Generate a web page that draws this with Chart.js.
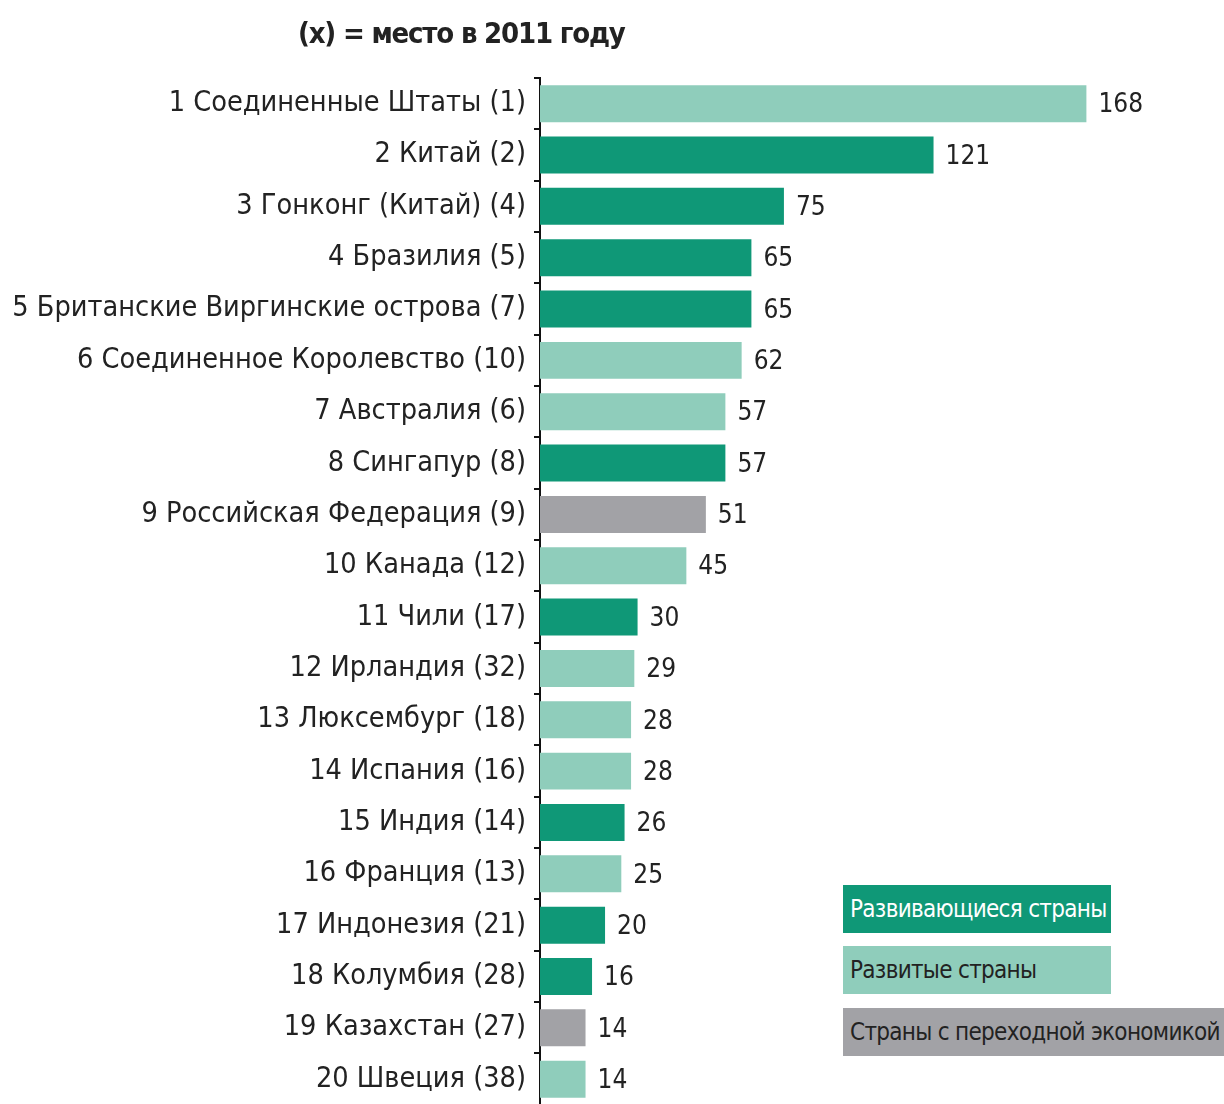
<!DOCTYPE html>
<html>
<head>
<meta charset="utf-8">
<script src="https://cdn.jsdelivr.net/npm/chart.js@4"></script>
<style>
  body { margin: 0; background: #fff; overflow: hidden; }
  #wrap { position: relative; width: 1224px; height: 1104px; overflow: hidden; }
  #cv { position: absolute; left: 0; top: 0; }
  .titulo { position: absolute; left: 298px; top: 16px; font: bold 29px "Liberation Sans Narrow", "DejaVu Sans Condensed", sans-serif; color: #222; letter-spacing: -1.2px; }
  .leyenda { position: absolute; left: 843px; height: 48px; padding-left: 7px; box-sizing: border-box;
    font: 24px "Liberation Sans Narrow", "DejaVu Sans Condensed", sans-serif; line-height: 48px; letter-spacing: -0.7px; white-space: nowrap; }
</style>
</head>
<body>
<div id="wrap">
  <canvas id="cv" width="1224" height="1130"></canvas>
  <div class="titulo">(x) = место в 2011 году</div>
  <div class="leyenda" style="top:885px;width:268px;background:#0f9877;color:#fff;">Развивающиеся страны</div>
  <div class="leyenda" style="top:946px;width:268px;background:#8fcdbb;color:#222;">Развитые страны</div>
  <div class="leyenda" style="top:1008px;width:390px;background:#a2a2a6;color:#222;">Страны с переходной экономикой</div>
</div>
<script>
// Países (posición 2012 + lugar en 2011)
const paises = [
    "1 Соединенные Штаты (1)",
    "2 Китай (2)",
    "3 Гонконг (Китай) (4)",
    "4 Бразилия (5)",
    "5 Британские Виргинские острова (7)",
    "6 Соединенное Королевство (10)",
    "7 Австралия (6)",
    "8 Сингапур (8)",
    "9 Российская Федерация (9)",
    "10 Канада (12)",
    "11 Чили (17)",
    "12 Ирландия (32)",
    "13 Люксембург (18)",
    "14 Испания (16)",
    "15 Индия (14)",
    "16 Франция (13)",
    "17 Индонезия (21)",
    "18 Колумбия (28)",
    "19 Казахстан (27)",
    "20 Швеция (38)"
];
// Valores de cada país
const valores = [168, 121, 75, 65, 65, 62, 57, 57, 51, 45, 30, 29, 28, 28, 26, 25, 20, 16, 14, 14];
// Grupo de economía: 0 = en desarrollo, 1 = desarrollada, 2 = en transición
const grupos = [1, 0, 0, 0, 0, 1, 1, 0, 2, 1, 0, 1, 1, 1, 0, 1, 0, 0, 2, 1];

const coloresGrupo = ["#0f9877", "#8fcdbb", "#a2a2a6"];
const fuente = "'Liberation Sans Narrow', 'DejaVu Sans Condensed', sans-serif";

// Plugin para escribir el valor al final de cada barra
const etiquetasValor = {
    id: "etiquetasValor",
    afterDatasetsDraw(chart) {
        const ctx = chart.ctx;
        const meta = chart.getDatasetMeta(0);
        ctx.save();
        ctx.font = "26px " + fuente;
        ctx.fillStyle = "#222";
        ctx.textBaseline = "middle";
        meta.data.forEach((barra, i) => {
            ctx.fillText(String(valores[i]), barra.x + 12, barra.y + 2);
        });
        ctx.restore();
    }
};

const ctx = document.getElementById("cv").getContext("2d");
const grafico = new Chart(ctx, {
    type: "bar",
    data: {
        labels: paises,
        datasets: [{
            data: valores,
            backgroundColor: grupos.map(g => coloresGrupo[g]),
            barPercentage: 0.72,
            categoryPercentage: 1
        }]
    },
    options: {
        indexAxis: "y",
        responsive: false,
        animation: false,
        layout: { padding: { top: 78, bottom: 24, left: 0, right: 1 } },
        plugins: { legend: { display: false }, tooltip: { enabled: false } },
        scales: {
            x: { display: false, min: 0, max: 210 },
            y: {
                offset: true,
                border: { display: true, color: "#111", width: 2 },
                grid: { drawOnChartArea: false, offset: true, tickLength: 6, color: "#111", lineWidth: 2 },
                ticks: { color: "#222", padding: 8, font: { family: fuente, size: 28.6 } },
                afterFit(scale) { scale.width = 540; }
            }
        }
    },
    plugins: [etiquetasValor]
});
</script>
</body>
</html>
